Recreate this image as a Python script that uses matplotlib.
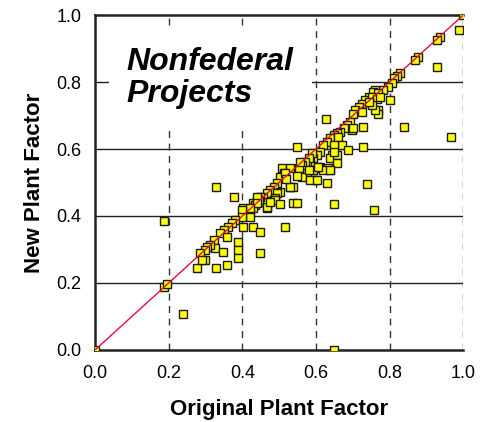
import matplotlib
matplotlib.use("Agg")
import matplotlib.pyplot as plt

plt.rcParams['font.family'] = ['Liberation Sans', 'DejaVu Sans']

# Original vs new plant factor, nonfederal projects
orig = [0.000, 1.000, 0.989, 0.937, 0.929, 0.929, 0.878, 0.869, 0.839, 0.967,
        0.829, 0.820, 0.811, 0.806, 0.797, 0.783, 0.802, 0.761, 0.756, 0.770,
        0.743, 0.734, 0.725, 0.716, 0.707, 0.702, 0.752, 0.766, 0.774, 0.770,
        0.770, 0.761, 0.752, 0.743, 0.725, 0.729, 0.693, 0.684, 0.698, 0.702,
        0.675, 0.666, 0.657, 0.648, 0.639, 0.630, 0.620, 0.661, 0.670, 0.688,
        0.729, 0.628, 0.648, 0.643, 0.639, 0.611, 0.602, 0.593, 0.584, 0.575,
        0.566, 0.657, 0.657, 0.611, 0.607, 0.639, 0.634, 0.575, 0.593, 0.620,
        0.638, 0.606, 0.599, 0.629, 0.650, 0.738, 0.757, 0.650, 0.548, 0.589,
        0.580, 0.571, 0.562, 0.553, 0.507, 0.530, 0.512, 0.503, 0.562, 0.580,
        0.584, 0.602, 0.530, 0.539, 0.494, 0.485, 0.476, 0.467, 0.457, 0.503,
        0.494, 0.489, 0.485, 0.467, 0.457, 0.539, 0.548, 0.516, 0.489, 0.529,
        0.448, 0.439, 0.430, 0.444, 0.435, 0.430, 0.403, 0.412, 0.421, 0.467,
        0.376, 0.329, 0.441, 0.439, 0.421, 0.399, 0.421, 0.399, 0.380, 0.371,
        0.362, 0.349, 0.340, 0.403, 0.428, 0.448, 0.358, 0.389, 0.448, 0.389,
        0.389, 0.322, 0.326, 0.312, 0.303, 0.299, 0.347, 0.285, 0.299, 0.276,
        0.328, 0.358, 0.290, 0.187, 0.186, 0.196, 0.238, 0.650, 0.516, 0.466,
        0.475, 0.502, 0.520, 0.548, 0.557]
new = [0.000, 1.000, 0.955, 0.935, 0.925, 0.846, 0.876, 0.866, 0.667, 0.635,
       0.826, 0.818, 0.811, 0.796, 0.786, 0.776, 0.748, 0.776, 0.771, 0.766,
       0.756, 0.746, 0.736, 0.726, 0.716, 0.706, 0.756, 0.751, 0.756, 0.716,
       0.706, 0.716, 0.731, 0.741, 0.711, 0.667, 0.681, 0.672, 0.657, 0.662,
       0.662, 0.652, 0.647, 0.642, 0.632, 0.622, 0.612, 0.637, 0.612, 0.597,
       0.607, 0.690, 0.612, 0.582, 0.572, 0.592, 0.582, 0.572, 0.562, 0.552,
       0.542, 0.582, 0.557, 0.547, 0.542, 0.537, 0.542, 0.532, 0.537, 0.537,
       0.537, 0.547, 0.507, 0.498, 0.436, 0.496, 0.418, 0.590, 0.605, 0.587,
       0.572, 0.562, 0.552, 0.542, 0.542, 0.542, 0.527, 0.517, 0.517, 0.537,
       0.507, 0.507, 0.487, 0.487, 0.498, 0.487, 0.478, 0.468, 0.458, 0.473,
       0.468, 0.453, 0.448, 0.438, 0.443, 0.438, 0.438, 0.366, 0.448, 0.488,
       0.458, 0.448, 0.438, 0.448, 0.433, 0.423, 0.423, 0.413, 0.408, 0.423,
       0.458, 0.486, 0.458, 0.438, 0.423, 0.418, 0.398, 0.398, 0.388, 0.378,
       0.368, 0.358, 0.348, 0.368, 0.368, 0.352, 0.338, 0.323, 0.289, 0.299,
       0.274, 0.328, 0.304, 0.313, 0.308, 0.299, 0.293, 0.289, 0.269, 0.244,
       0.244, 0.254, 0.269, 0.386, 0.187, 0.197, 0.107, 0.000, 0.527, 0.428,
       0.443, 0.437, 0.510, 0.520, 0.560]

diag = [0, 1]
grid_y = [0.2, 0.4, 0.6, 0.8]
grid_x = [0.2, 0.4, 0.6, 0.8, 1.0]
ticks = [0.0, 0.2, 0.4, 0.6, 0.8, 1.0]

fig = plt.figure(figsize=(4.88, 4.22), dpi=100)
ax = fig.add_axes([0.195, 0.171, 0.754, 0.793])

# grille
for g in grid_y:
    ax.axhline(g, color='#222222', lw=1.0, zorder=1)
for g in grid_x:
    ax.axvline(g, color='#333333', lw=1.0, ls=(0, (5, 4)), zorder=1)

ax.text(0.086, 0.905, "Nonfederal\nProjects", fontsize=23, fontweight='bold',
        fontstyle='italic', va='top', ha='left', linespacing=1.1,
        bbox=dict(facecolor='white', edgecolor='none', pad=13), zorder=2)

ax.plot(orig, new, 's', ms=6, mfc='#ffff00', mec='#1a1a1a', mew=1.0, zorder=3)
ax.plot(diag, diag, color='#e0103c', lw=1.0, zorder=4)

ax.set_xlim(0, 1)
ax.set_ylim(0, 1)
ax.set_xticks(ticks)
ax.set_yticks(ticks)
ax.set_xticklabels([f"{t:.1f}" for t in ticks])
ax.set_yticklabels([f"{t:.1f}" for t in ticks])
ax.tick_params(length=0, labelsize=13)
ax.tick_params(axis='x', pad=11)
ax.tick_params(axis='y', pad=10)
for s in ['left', 'bottom', 'top']:
    ax.spines[s].set_linewidth(1.8)
    ax.spines[s].set_color('#222222')
ax.spines['right'].set_visible(False)

ax.set_xlabel("Original Plant Factor", fontsize=16, fontweight='bold', labelpad=12)
ax.set_ylabel("New Plant Factor", fontsize=16, fontweight='bold', labelpad=8)

plt.savefig("out.png", dpi=100)
plt.close()
